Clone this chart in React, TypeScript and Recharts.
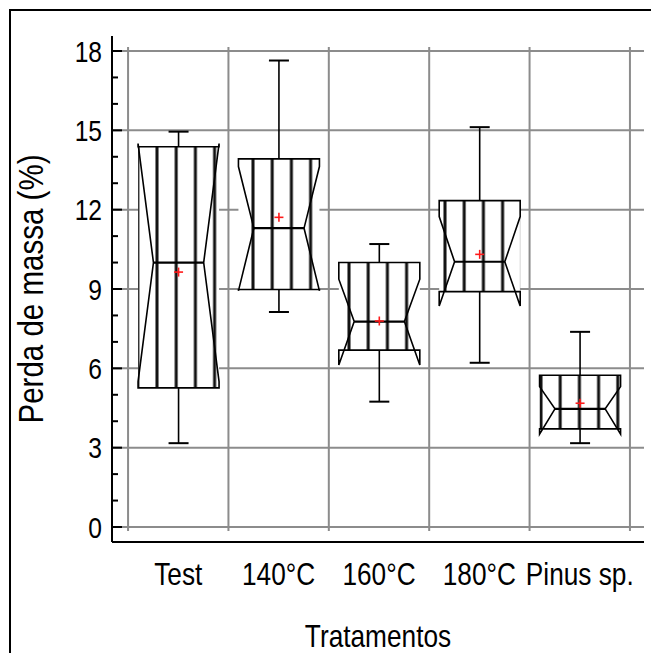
import { ComposedChart, Bar, XAxis, YAxis, CartesianGrid, ReferenceLine, Label } from 'recharts';

// notched box plot
const categories = ['Test', '140°C', '160°C', '180°C', 'Pinus sp.'];
const mins = [3.17, 8.13, 4.74, 6.21, 3.17];
const q1s = [5.26, 8.98, 6.69, 8.9, 3.71];
const medians = [10.0, 11.3, 7.77, 10.03, 4.47];
const q3s = [14.38, 13.92, 10.0, 12.34, 5.74];
const maxs = [14.95, 17.64, 10.7, 15.12, 7.38];
const means = [9.64, 11.71, 7.79, 10.31, 4.68];
const notchLows = [5.5, 8.93, 6.13, 8.36, 3.51];
const notchHighs = [14.5, 13.63, 9.37, 11.74, 5.31];

const majorTicks = [0, 3, 6, 9, 12, 15, 18];
const minorTicks = [0, 1, 2, 3, 4, 5, 6, 7, 8, 9, 10, 11, 12, 13, 14, 15, 16, 17, 18];
const catTicks = categories.map((_, i) => i + 1);
const gridX = [0.5, 1.5, 2.5, 3.5, 4.5, 5.5];

const data = categories.map((name, i) => ({
  pos: i + 1,
  name,
  min: mins[i],
  q1: q1s[i],
  median: medians[i],
  q3: q3s[i],
  max: maxs[i],
  mean: means[i],
  notchLow: notchLows[i],
  notchHigh: notchHighs[i],
}));

// no narrow font installed, so squeeze Liberation Sans horizontally
const FONT = "'Liberation Sans', Arial, sans-serif";
const SQUEEZE = 0.82;
const GRID = '#8c8c8c';
const Y_DOMAIN: [number, number] = [-0.567, 18.567];
const X_DOMAIN: [number, number] = [0.34, 5.64];
const LEFT_MARGIN = 10;

function NotchBox(props: any) {
  const { x, y, width, height, payload } = props;
  if (!payload) return null;
  const top = Math.min(y, y + height);
  const h = Math.abs(height);
  const span = payload.max - payload.min;
  const py = (v: number) => top + ((payload.max - v) / span) * h;
  const cx = x + width / 2;
  const L = x;
  const R = x + width;
  const ind = width * 0.19;
  const yQ1 = py(payload.q1);
  const yQ3 = py(payload.q3);
  const yMed = py(payload.median);
  const yNL = py(payload.notchLow);
  const yNH = py(payload.notchHigh);
  const yMax = py(payload.max);
  const yMin = py(payload.min);
  const yMean = py(payload.mean);
  const outline = [
    [L, yQ1], [L, yNL], [L + ind, yMed], [L, yNH], [L, yQ3],
    [R, yQ3], [R, yNH], [R - ind, yMed], [R, yNL], [R, yQ1],
  ].map((p) => p.join(',')).join(' ');
  const cap = 10;
  const arm = 4.5;
  return (
    <g>
      <line x1={cx} y1={yMax} x2={cx} y2={yQ3} stroke="#000" strokeWidth={1.6} />
      <line x1={cx} y1={yQ1} x2={cx} y2={yMin} stroke="#000" strokeWidth={1.6} />
      <line x1={cx - cap} y1={yMax} x2={cx + cap} y2={yMax} stroke="#000" strokeWidth={2} />
      <line x1={cx - cap} y1={yMin} x2={cx + cap} y2={yMin} stroke="#000" strokeWidth={2} />
      <polygon points={outline} fill="#fff" stroke="none" />
      <rect x={L} y={yQ3} width={width} height={yQ1 - yQ3} fill="#fff" />
      <rect x={L} y={yQ3} width={width} height={yQ1 - yQ3} fill="url(#vhatch)" />
      <polygon points={outline} fill="none" stroke="#000" strokeWidth={1.6} />
      <line x1={L + ind} y1={yMed} x2={R - ind} y2={yMed} stroke="#000" strokeWidth={2.2} />
      <line x1={cx - arm} y1={yMean} x2={cx + arm} y2={yMean} stroke="#ff1a1a" strokeWidth={1.6} />
      <line x1={cx} y1={yMean - arm} x2={cx} y2={yMean + arm} stroke="#ff1a1a" strokeWidth={1.6} />
    </g>
  );
}

const LeftTick = ({ x, y, payload }: any) => {
  const major = payload.value % 3 === 0;
  const ax = x + LEFT_MARGIN;
  return (
    <g>
      <line x1={ax} y1={y} x2={ax + (major ? 10 : 6)} y2={y} stroke="#000" strokeWidth={2} />
      {major && (
        <text transform={`translate(${x},${y}) scale(${SQUEEZE},1)`} textAnchor="end" dy="0.36em"
          fontSize={30} fontFamily={FONT} fill="#000">{payload.value}</text>
      )}
    </g>
  );
};

const RightTick = ({ x, y, payload }: any) => {
  const major = payload.value % 3 === 0;
  return <line x1={x - (major ? 10 : 6)} y1={y} x2={x} y2={y} stroke="#000" strokeWidth={2} />;
};

const CatTick = ({ x, y, payload }: any) => (
  <text transform={`translate(${x},${y}) scale(${SQUEEZE},1)`} textAnchor="middle" dy="0.71em"
    fontSize={32} fontFamily={FONT} fill="#000">{categories[payload.value - 1]}</text>
);

const XTitle = ({ viewBox }: any) => (
  <text transform={`translate(${viewBox.x + viewBox.width / 2},${viewBox.y + viewBox.height - 6}) scale(${SQUEEZE},1)`}
    textAnchor="middle" fontSize={32} fontFamily={FONT} fill="#000">Tratamentos</text>
);

const YTitle = ({ viewBox }: any) => {
  const tx = viewBox.x - 9;
  const ty = viewBox.y + viewBox.height / 2;
  return (
    <text transform={`translate(${tx},${ty}) rotate(-90) scale(${SQUEEZE},1)`} textAnchor="middle"
      fontSize={36} fontFamily={FONT} fill="#000">Perda de massa (%)</text>
  );
};

const axisLine = { stroke: '#000', strokeWidth: 2 };

export default function App() {
  return (
    <div style={{ position: 'relative', width: 651, height: 653, overflow: 'hidden', background: '#fff' }}>
      <style>{'body{margin:0}'}</style>
      <div style={{ position: 'absolute', left: 9, top: 9, width: 700, height: 700, border: '2px solid #000', boxSizing: 'border-box' }} />
      <div style={{ position: 'absolute', left: 0, top: 0 }}>
        <ComposedChart width={651} height={653} data={data} margin={{ top: 36, right: 7, bottom: 0, left: 52 }}>
          <defs>
            <pattern id="vhatch" patternUnits="userSpaceOnUse" x={147.4} y={0} width={19.2} height={8}>
              <line x1={9.6} y1={0} x2={9.6} y2={8} stroke="#111" strokeWidth={3} />
            </pattern>
          </defs>
          <CartesianGrid horizontal vertical={false} horizontalValues={majorTicks} stroke={GRID} strokeWidth={2} />
          <XAxis dataKey="pos" type="number" domain={X_DOMAIN} allowDataOverflow ticks={catTicks} interval={0}
            tickLine={false} tickSize={0} tickMargin={20} tick={CatTick} axisLine={axisLine} height={111}>
            <Label content={XTitle} />
          </XAxis>
          <XAxis xAxisId="top" orientation="top" type="number" domain={X_DOMAIN} allowDataOverflow height={0}
            tick={false} tickLine={false} axisLine={axisLine} />
          <YAxis type="number" domain={Y_DOMAIN} allowDataOverflow ticks={minorTicks} interval={0} width={60}
            tickLine={false} tickSize={0} tickMargin={LEFT_MARGIN} axisLine={axisLine} tick={LeftTick}>
            <Label content={YTitle} />
          </YAxis>
          <YAxis yAxisId="right" orientation="right" type="number" domain={Y_DOMAIN} allowDataOverflow
            ticks={minorTicks} interval={0} width={0} tickLine={false} tickSize={0} tickMargin={0}
            tick={RightTick} axisLine={axisLine} />
          {gridX.map((gx) => (
            <ReferenceLine key={gx} segment={[{ x: gx, y: -0.15 }, { x: gx, y: 18.15 }]} stroke={GRID} strokeWidth={2} />
          ))}
          <Bar dataKey={(d: any) => [d.min, d.max]} barSize={81} shape={NotchBox} isAnimationActive={false} />
        </ComposedChart>
      </div>
    </div>
  );
}
